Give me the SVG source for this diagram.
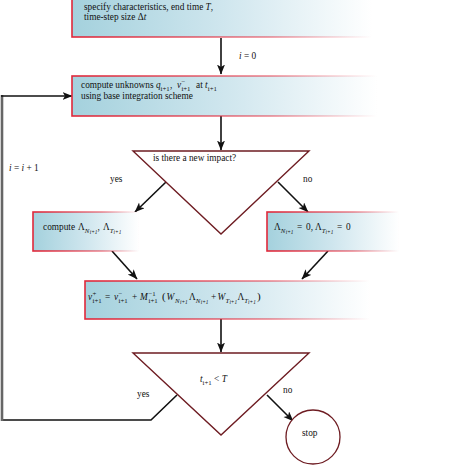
<svg xmlns="http://www.w3.org/2000/svg" width="474" height="466" viewBox="0 0 474 466">
<style>
text{font-family:"Liberation Serif","Times New Roman",serif;font-size:9.3px;fill:#111}
.it{font-style:italic}
.sb{font-size:6.8px;baseline-shift:-3px}
.sp{font-size:6.8px;baseline-shift:4.2px}
.ss{font-size:5.3px;font-style:italic;baseline-shift:-4.2px}
.box{fill:url(#fillg);stroke:url(#strokeg);stroke-width:1.6}
.tri{fill:#fff;stroke:#6e1c22;stroke-width:1.4}
.con{fill:none;stroke:#111;stroke-width:1.6}
.arr{marker-end:url(#ah)}
</style>
<defs>
<linearGradient id="fillg" x1="0" y1="0" x2="1" y2="0">
<stop offset="0" stop-color="#a4d1dd"/>
<stop offset="0.5" stop-color="#cfe6ee"/>
<stop offset="1" stop-color="#ffffff"/>
</linearGradient>
<linearGradient id="strokeg" x1="0" y1="0" x2="1" y2="0">
<stop offset="0" stop-color="#e0283a" stop-opacity="1"/>
<stop offset="0.65" stop-color="#e0283a" stop-opacity="0.55"/>
<stop offset="1" stop-color="#e0283a" stop-opacity="0"/>
</linearGradient>
<marker id="ah" markerUnits="userSpaceOnUse" markerWidth="11" markerHeight="9" refX="9.5" refY="4" orient="auto">
<path d="M0,0 L10,4 L0,8 L2.5,4 Z" fill="#111"/>
</marker>
</defs>

<g id="connectors">
<line class="con arr" x1="221" y1="38" x2="221" y2="74"/>
<line class="con arr" x1="221" y1="116" x2="221" y2="150"/>
<line class="con arr" x1="166" y1="182" x2="135" y2="212"/>
<line class="con arr" x1="278" y1="182" x2="308" y2="212"/>
<line class="con arr" x1="112" y1="251" x2="137" y2="279"/>
<line class="con arr" x1="328" y1="251" x2="302" y2="279"/>
<line class="con arr" x1="221" y1="319" x2="221" y2="352"/>
<line class="con arr" x1="267" y1="395" x2="293" y2="421"/>
<polyline class="con" points="177,395 151,420 1,420"/>
<line x1="2" y1="421" x2="2" y2="95" stroke="#666" stroke-width="2.6"/>
<line class="con arr" x1="1" y1="96" x2="72" y2="96"/>
<text x="239" y="59"><tspan class="it">i</tspan> = 0</text>
<text x="9" y="171"><tspan class="it">i</tspan> = <tspan class="it">i</tspan> + 1</text>
<text x="110" y="182">yes</text>
<text x="303" y="182">no</text>
<text x="137" y="397">yes</text>
<text x="283" y="393">no</text>
</g>

<g id="n_spec">
<rect class="box" x="72" y="-3" width="300" height="40"/>
<text x="84" y="10">specify characteristics, end time <tspan class="it">T</tspan>,</text>
<text x="84" y="20">time-step size Δ<tspan class="it">t</tspan></text>
</g>

<g id="n_base">
<rect class="box" x="72" y="76" width="305" height="40"/>
<text x="81" y="88">compute unknowns <tspan x="156" class="it">q</tspan><tspan x="160.6" class="sb">i+1</tspan><tspan x="170">,</tspan><tspan x="177" class="it">v</tspan><tspan x="181.4" class="sp">−</tspan><tspan x="181.4" class="sb">i+1</tspan><tspan x="196">at</tspan><tspan x="205" class="it">t</tspan><tspan x="207.8" class="sb">i+1</tspan></text>
<text x="81" y="99">using base integration scheme</text>
</g>

<g id="n_impact">
<polygon class="tri" points="133,151 309,151 221,234"/>
<text x="153" y="161">is there a new impact?</text>
</g>

<g id="n_compute">
<rect class="box" x="33" y="212" width="106" height="39"/>
<text x="43" y="230">compute <tspan x="78">Λ</tspan><tspan x="84.7" class="sb it">N</tspan><tspan x="89.7" class="ss">i+1</tspan><tspan x="97.5">,</tspan><tspan x="103">Λ</tspan><tspan x="109.7" class="sb it">T</tspan><tspan x="113.6" class="ss">i+1</tspan></text>
</g>

<g id="n_zero">
<rect class="box" x="267" y="212" width="132" height="39"/>
<text y="230"><tspan x="274">Λ</tspan><tspan x="280.7" class="sb it">N</tspan><tspan x="285.7" class="ss">i+1</tspan><tspan x="297">=</tspan><tspan x="306">0,</tspan><tspan x="315">Λ</tspan><tspan x="321.7" class="sb it">T</tspan><tspan x="325.6" class="ss">i+1</tspan><tspan x="337">=</tspan><tspan x="346">0</tspan></text>
</g>

<g id="n_update">
<rect class="box" x="85" y="281" width="285" height="38"/>
<text y="300"><tspan x="88" class="it">v</tspan><tspan x="92.5" class="sp">+</tspan><tspan x="92.5" class="sb">i+1</tspan><tspan x="105">=</tspan><tspan x="114" class="it">v</tspan><tspan x="118.5" class="sp">−</tspan><tspan x="118.5" class="sb">i+1</tspan><tspan x="132">+</tspan><tspan x="140" class="it">M</tspan><tspan x="148.5" class="sp">−1</tspan><tspan x="148.5" class="sb">i+1</tspan><tspan x="162" font-size="11">(</tspan><tspan x="166.5" class="it">W</tspan><tspan x="175" class="sb it">N</tspan><tspan x="180" class="ss">i+1</tspan><tspan x="189">Λ</tspan><tspan x="195.7" class="sb it">N</tspan><tspan x="200.7" class="ss">i+1</tspan><tspan x="211">+</tspan><tspan x="217.5" class="it">W</tspan><tspan x="225.5" class="sb it">T</tspan><tspan x="229.4" class="ss">i+1</tspan><tspan x="237.5">Λ</tspan><tspan x="244.2" class="sb it">T</tspan><tspan x="248.1" class="ss">i+1</tspan><tspan x="257" font-size="11">)</tspan></text>
</g>

<g id="n_check">
<polygon class="tri" points="133,353 309,353 221,435"/>
<text x="200" y="382"><tspan class="it">t</tspan><tspan class="sb">i+1</tspan> &lt; <tspan class="it">T</tspan></text>
</g>

<g id="n_stop">
<circle cx="313" cy="437" r="27" fill="#fff" stroke="#6e1c22" stroke-width="1.3"/>
<text x="302" y="436">stop</text>
</g>
</svg>
